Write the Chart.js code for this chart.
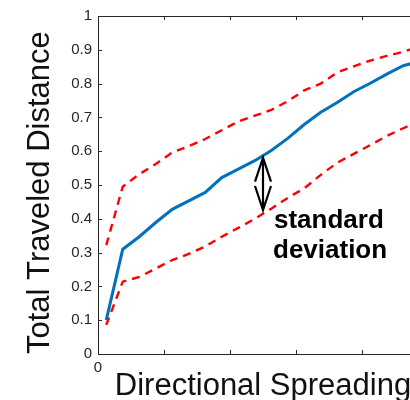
<!DOCTYPE html>
<html>
<head>
<meta charset="utf-8">
<script src="https://cdn.jsdelivr.net/npm/chart.js@4.4.1/dist/chart.umd.min.js"></script>
<style>
    html, body { margin: 0; padding: 0; background: #fff; }
    #wrap { width: 410px; height: 400px; overflow: hidden; }
    canvas { display: block; }
</style>
</head>
<body>
<div id="wrap"><canvas id="distance-chart" width="440" height="410"></canvas></div>
<script>
// Bin centres of directional spreading
const spreading = [2.5, 7.5, 12.5, 17.5, 22.5, 27.5, 32.5, 37.5, 42.5, 47.5,
                   52.5, 57.5, 62.5, 67.5, 72.5, 77.5, 82.5, 87.5, 92.5, 97.5];

// Mean total traveled distance and the +/- one std bounds
const meanDistance = [0.100, 0.310, 0.347, 0.389, 0.428, 0.453, 0.478, 0.522, 0.547, 0.572,
                      0.602, 0.638, 0.679, 0.715, 0.744, 0.776, 0.801, 0.828, 0.853, 0.866];
const upperStd = [0.322, 0.495, 0.532, 0.562, 0.596, 0.615, 0.636, 0.662, 0.688, 0.705,
                  0.722, 0.748, 0.780, 0.800, 0.833, 0.851, 0.868, 0.882, 0.894, 0.910];
const lowerStd = [0.086, 0.214, 0.228, 0.253, 0.278, 0.296, 0.318, 0.347, 0.373, 0.400,
                  0.430, 0.462, 0.490, 0.530, 0.566, 0.592, 0.618, 0.645, 0.668, 0.690];

// Tick labels
const xTickLabels = ['0', '', '', '', '', ''];
const yTickLabels = ['0', '0.1', '0.2', '0.3', '0.4', '0.5', '0.6', '0.7', '0.8', '0.9', '1'];

const FONT = "'Liberation Sans', Arial, Helvetica, sans-serif";
const AXIS_COLOR = '#262626';

// Arrow + label marking the std band (data units)
const arrowX = 50;
const arrowTop = 0.581;
const arrowBottom = 0.426;

// Box around the axes with MATLAB-style inward ticks
const axesBox = {
    id: 'axesBox',
    afterDraw(chart) {
        const { ctx, chartArea: a, scales: { x, y } } = chart;
        const len = 4;
        ctx.save();
        ctx.strokeStyle = AXIS_COLOR;
        ctx.lineWidth = 1;
        ctx.beginPath();
        ctx.rect(a.left + 0.5, a.top + 0.5, a.right - a.left, a.bottom - a.top);
        x.ticks.forEach(t => {
            const px = Math.round(x.getPixelForValue(t.value)) + 0.5;
            ctx.moveTo(px, a.bottom); ctx.lineTo(px, a.bottom - len);
            ctx.moveTo(px, a.top); ctx.lineTo(px, a.top + len);
        });
        y.ticks.forEach(t => {
            const py = Math.round(y.getPixelForValue(t.value)) + 0.5;
            ctx.moveTo(a.left, py); ctx.lineTo(a.left + len, py);
            ctx.moveTo(a.right, py); ctx.lineTo(a.right - len, py);
        });
        ctx.stroke();
        ctx.restore();
    }
};

const stdNote = {
    id: 'stdNote',
    afterDatasetsDraw(chart) {
        const { ctx, scales: { x, y } } = chart;
        const ax = x.getPixelForValue(arrowX);
        const top = y.getPixelForValue(arrowTop);
        const bot = y.getPixelForValue(arrowBottom);
        const hw = 8, hl = 24;
        ctx.save();
        ctx.strokeStyle = '#000';
        ctx.lineWidth = 2.2;
        ctx.lineJoin = 'miter';
        ctx.beginPath();
        ctx.moveTo(ax, top); ctx.lineTo(ax, bot);
        ctx.moveTo(ax - hw, top + hl); ctx.lineTo(ax, top); ctx.lineTo(ax + hw, top + hl);
        ctx.moveTo(ax - hw, bot - hl); ctx.lineTo(ax, bot); ctx.lineTo(ax + hw, bot - hl);
        ctx.stroke();

        ctx.fillStyle = '#000';
        ctx.font = 'bold 26px ' + FONT;
        ctx.textAlign = 'left';
        ctx.textBaseline = 'alphabetic';
        ctx.fillText('standard', ax + 11, bot + 18);
        ctx.fillText('deviation', ax + 10, bot + 48);
        ctx.restore();
    }
};

const ctx = document.getElementById('distance-chart').getContext('2d');

new Chart(ctx, {
    type: 'line',
    data: {
        labels: spreading,
        datasets: [{
            label: 'Mean',
            data: meanDistance,
            borderColor: '#0072BD',
            borderWidth: 3,
            pointRadius: 0,
            tension: 0
        }, {
            label: 'Mean + std',
            data: upperStd,
            borderColor: '#FF0000',
            borderWidth: 2.4,
            borderDash: [8, 6],
            pointRadius: 0,
            tension: 0
        }, {
            label: 'Mean - std',
            data: lowerStd,
            borderColor: '#FF0000',
            borderWidth: 2.4,
            borderDash: [8, 6],
            pointRadius: 0,
            tension: 0
        }]
    },
    options: {
        responsive: false,
        devicePixelRatio: 1,
        animation: false,
        layout: { padding: { left: 0, top: 16, right: 12, bottom: 5 } },
        plugins: {
            legend: { display: false },
            tooltip: { enabled: false }
        },
        scales: {
            x: {
                type: 'linear',
                min: 0,
                max: 100,
                grid: { display: false, drawTicks: false },
                border: { display: false },
                ticks: {
                    stepSize: 20,
                    padding: 5,
                    color: AXIS_COLOR,
                    font: { family: FONT, size: 15 },
                    maxRotation: 0,
                    callback: (v, i) => xTickLabels[i]
                },
                title: {
                    display: true,
                    text: 'Directional Spreading',
                    color: '#111',
                    font: { family: FONT, size: 31 },
                    padding: { top: 0, bottom: 0 }
                },
                afterFit(scale) { scale.height = 51; }
            },
            y: {
                min: 0,
                max: 1,
                grid: { display: false, drawTicks: false },
                border: { display: false },
                ticks: {
                    stepSize: 0.1,
                    padding: 6,
                    color: AXIS_COLOR,
                    font: { family: FONT, size: 15 },
                    callback: (v, i) => yTickLabels[i]
                },
                title: {
                    display: true,
                    align: 'start',
                    text: 'Total Traveled Distance',
                    color: '#111',
                    font: { family: FONT, size: 31 },
                    padding: { top: 22, bottom: 0 }
                },
                afterFit(scale) { scale.width = 98; }
            }
        }
    },
    plugins: [axesBox, stdNote]
});
</script>
</body>
</html>
